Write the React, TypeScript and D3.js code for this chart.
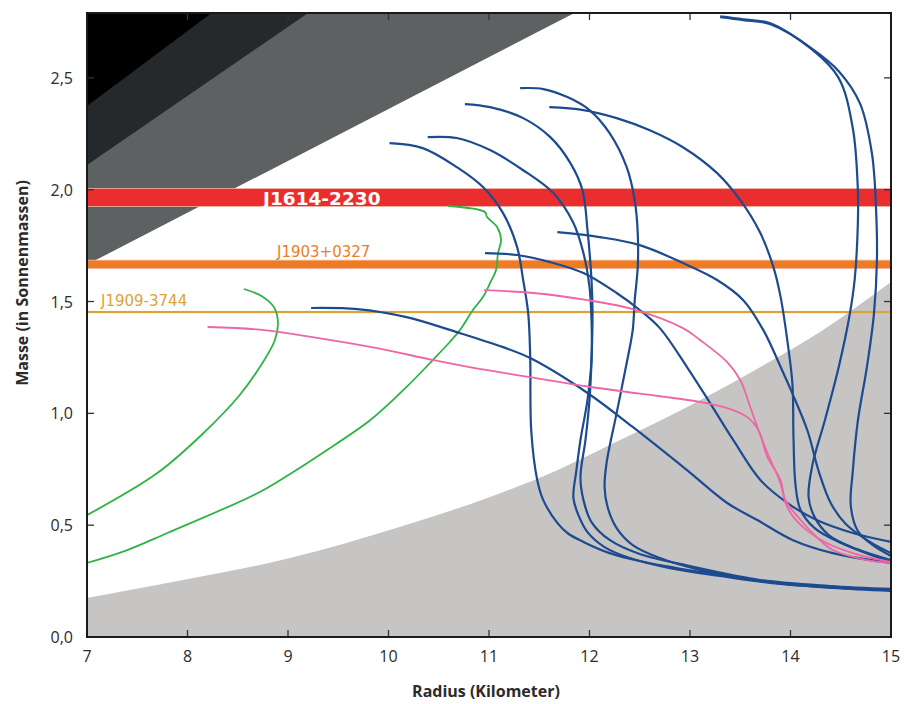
import React from "react";
import * as d3 from "d3";

// axes
const radiusTicks = [7, 8, 9, 10, 11, 12, 13, 14, 15];
const massTicks = [0, 0.5, 1.0, 1.5, 2.0, 2.5];

// excluded regions: [radius, mass] corners of the wedges (left edge, top edge)
const blackEdge = [[7, 2.374], [8.24, 2.79]];
const darkEdge = [[7, 2.11], [9.2, 2.79]];
const greyEdge = [[7, 1.665], [11.85, 2.79]];
// lower light-grey region boundary
const lowerRadius = [7, 7.8, 9.02, 10.11, 11.01, 11.68, 12.2, 13.1, 13.77, 14.32, 15];
const lowerMass = [0.174, 0.241, 0.353, 0.492, 0.626, 0.746, 0.858, 1.059, 1.225, 1.372, 1.587];

// pulsar mass bands [low, high]
const pulsarNames = ["J1614-2230", "J1903+0327", "J1909-3744"];
const pulsarLow = [1.925, 1.647, 1.448];
const pulsarHigh = [2.005, 1.685, 1.458];

// mass-radius curves
const blue1 = [[9.23, 1.471], [9.69, 1.466], [10.18, 1.43], [10.68, 1.363], [11.14, 1.296], [11.41, 1.247], [11.98, 1.091], [12.43, 0.939], [12.97, 0.746], [13.37, 0.599], [13.67, 0.523], [14.02, 0.434], [14.42, 0.375], [15, 0.331]];
const blue2 = [[10.01, 2.208], [10.34, 2.186], [10.68, 2.101], [10.94, 2.012], [11.14, 1.895], [11.28, 1.743], [11.34, 1.596], [11.39, 1.448], [11.41, 1.252], [11.42, 0.925], [11.48, 0.702], [11.54, 0.612], [11.68, 0.51], [11.78, 0.465], [11.94, 0.425], [12.2, 0.375], [12.5, 0.34], [13.1, 0.291], [13.77, 0.246], [14.42, 0.224], [15, 0.21]];
const blue3 = [[10.39, 2.235], [10.68, 2.231], [11.01, 2.177], [11.34, 2.087], [11.64, 1.985], [11.84, 1.851], [11.94, 1.716], [12.0, 1.565], [12.02, 1.417], [12.02, 1.238], [11.98, 1.059], [11.91, 0.881], [11.87, 0.746], [11.84, 0.621], [11.89, 0.545], [11.98, 0.469], [12.15, 0.402], [12.4, 0.353], [12.8, 0.308], [13.3, 0.273], [13.9, 0.237], [14.49, 0.219], [15, 0.21]];
const blue4 = [[10.76, 2.383], [11.01, 2.369], [11.34, 2.32], [11.61, 2.235], [11.81, 2.119], [11.93, 1.998], [11.98, 1.819], [12.02, 1.596], [12.03, 1.448], [12.02, 1.238], [12.0, 1.059], [11.96, 0.881], [11.91, 0.715], [11.94, 0.612], [12.02, 0.514], [12.2, 0.434], [12.5, 0.371], [13.0, 0.317], [13.7, 0.255], [14.39, 0.228], [15, 0.215]];
const blue5 = [[11.31, 2.454], [11.54, 2.45], [11.78, 2.414], [12.0, 2.356], [12.2, 2.253], [12.37, 2.101], [12.45, 1.953], [12.48, 1.806], [12.48, 1.654], [12.45, 1.506], [12.43, 1.372], [12.37, 1.225], [12.27, 1.001], [12.17, 0.778], [12.15, 0.671], [12.18, 0.581], [12.27, 0.487], [12.43, 0.411], [12.7, 0.353], [13.1, 0.3], [13.77, 0.246], [14.42, 0.219], [15, 0.206]];
const blue6 = [[11.6, 2.369], [11.94, 2.356], [12.27, 2.32], [12.6, 2.266], [12.93, 2.19], [13.27, 2.074], [13.5, 1.953], [13.7, 1.806], [13.83, 1.654], [13.9, 1.524], [13.98, 1.287], [14.02, 1.126], [14.03, 0.885], [14.05, 0.679], [14.1, 0.568], [14.24, 0.487], [14.48, 0.425], [15, 0.335]];
const blue7 = [[10.96, 1.716], [11.28, 1.708], [11.61, 1.676], [11.94, 1.627], [12.27, 1.538], [12.5, 1.462], [12.7, 1.381], [12.97, 1.207], [13.2, 1.046], [13.43, 0.881], [13.7, 0.702], [13.97, 0.599], [14.26, 0.523], [14.62, 0.465], [15, 0.425]];
const blue8 = [[11.68, 1.81], [12.1, 1.788], [12.5, 1.752], [12.93, 1.672], [13.27, 1.596], [13.53, 1.506], [13.73, 1.372], [13.92, 1.189], [14.03, 1.077], [14.17, 0.921], [14.28, 0.742], [14.4, 0.599], [14.55, 0.505], [14.79, 0.425], [15, 0.375]];
const blue9 = [[13.3, 2.771], [13.53, 2.758], [13.8, 2.74], [14.21, 2.628], [14.48, 2.499], [14.62, 2.275], [14.67, 2.003], [14.67, 1.846], [14.64, 1.605], [14.59, 1.444], [14.48, 1.207], [14.34, 0.966], [14.22, 0.773], [14.18, 0.626], [14.24, 0.536], [14.38, 0.456], [14.66, 0.393], [15, 0.344]];
const blue10 = [[13.3, 2.775], [13.53, 2.762], [13.8, 2.744], [14.21, 2.632], [14.48, 2.53], [14.69, 2.387], [14.81, 2.163], [14.85, 1.927], [14.86, 1.685], [14.83, 1.444], [14.76, 1.207], [14.67, 0.966], [14.62, 0.742], [14.6, 0.586], [14.67, 0.474], [14.83, 0.407], [15, 0.362]];
const pink1 = [[8.2, 1.386], [8.72, 1.374], [9.32, 1.335], [9.9, 1.29], [10.45, 1.238], [10.95, 1.195], [11.44, 1.16], [11.98, 1.12], [12.5, 1.088], [13.1, 1.051], [13.4, 1.019], [13.57, 0.983], [13.68, 0.925], [13.77, 0.805], [13.9, 0.702], [13.95, 0.612], [14.1, 0.523], [14.26, 0.447], [14.42, 0.389], [14.76, 0.344], [15, 0.331]];
const pink2 = [[10.95, 1.551], [11.44, 1.538], [11.98, 1.506], [12.43, 1.466], [12.93, 1.381], [13.1, 1.328], [13.37, 1.229], [13.5, 1.149], [13.6, 1.028], [13.67, 0.939], [13.77, 0.823], [13.9, 0.688], [13.95, 0.599], [14.03, 0.536], [14.16, 0.478], [14.36, 0.42], [14.62, 0.375], [15, 0.335]];
const green1 = [[8.56, 1.556], [8.74, 1.524], [8.86, 1.475], [8.9, 1.408], [8.87, 1.328], [8.72, 1.207], [8.52, 1.082], [8.16, 0.912], [7.7, 0.733], [7.0, 0.545]];
const green2 = [[10.59, 1.927], [10.96, 1.9], [10.98, 1.878], [11.08, 1.833], [11.12, 1.775], [11.09, 1.717], [11.07, 1.641], [11.01, 1.582], [10.94, 1.52], [10.84, 1.462], [10.71, 1.372], [10.61, 1.319], [10.44, 1.238], [10.18, 1.118], [9.82, 0.97], [9.34, 0.822], [9.02, 0.729], [8.7, 0.644], [7.8, 0.465], [7.38, 0.385], [7.0, 0.331]];

const blueCurves = [blue1, blue2, blue3, blue4, blue5, blue6, blue7, blue8, blue9, blue10];
const pinkCurves = [pink1, pink2];
const greenCurves = [green1, green2];

const W = 912;
const H = 704;
const left = 87;
const right = 891;
const top = 13;
const bottom = 637;

const App = () => {
    const x = d3.scaleLinear().domain([7, 15]).range([left, right]);
    const y = d3.scaleLinear().domain([0, 2.79]).range([bottom, top]);
    const yTop = 2.79;

    const line = d3.line<number[]>()
        .x(d => x(d[0]))
        .y(d => y(d[1]))
        .curve(d3.curveCatmullRom.alpha(0.5));

    const lowerArea = d3.area<number>()
        .x((_, i) => x(lowerRadius[i]))
        .y0(y(0))
        .y1(d => y(d))
        .curve(d3.curveMonotoneX);

    const wedge = (edge: number[][]) =>
        `M${x(7)},${y(yTop)}L${x(edge[1][0])},${y(yTop)}L${x(edge[0][0])},${y(edge[0][1])}Z`;

    const bandColors = ["#ea2e2d", "#ee7d22", "#dca337"];
    const fontTick = "'Open Sans', 'DejaVu Sans', sans-serif";

    return (
        <svg width={W} height={H} viewBox={`0 0 ${W} ${H}`}
            style={{ position: "absolute", left: 0, top: 0, background: "#fff" }}>
            <defs>
                <clipPath id="plot">
                    <rect x={left} y={top} width={right - left} height={bottom - top} />
                </clipPath>
            </defs>
            <g clipPath="url(#plot)">
                <path d={lowerArea(lowerMass) || ""} fill="#c6c5c3" />
                <path d={wedge(greyEdge)} fill="#5d6162" />
                <path d={wedge(darkEdge)} fill="#25292b" />
                <path d={wedge(blackEdge)} fill="#000" />

                {pulsarNames.map((name, i) => (
                    <rect key={name}
                        x={left} width={right - left}
                        y={y(pulsarHigh[i])}
                        height={y(pulsarLow[i]) - y(pulsarHigh[i])}
                        fill={bandColors[i]}
                        stroke={i < 2 ? "#f7b3a8" : "none"}
                        strokeWidth={0.8}
                    />
                ))}

                {greenCurves.map((c, i) => (
                    <path key={"g" + i} d={line(c) || ""} fill="none" stroke="#2fb344" strokeWidth={1.8} />
                ))}
                {blueCurves.map((c, i) => (
                    <path key={"b" + i} d={line(c) || ""} fill="none" stroke="#1d4b90" strokeWidth={2.2} />
                ))}
                {pinkCurves.map((c, i) => (
                    <path key={"p" + i} d={line(c) || ""} fill="none" stroke="#ee66a6" strokeWidth={1.8} />
                ))}
            </g>

            <text x={263} y={y(pulsarLow[0]) - 1.5} fill="#fff" fontFamily="'DejaVu Sans', sans-serif"
                fontWeight="bold" fontSize={18.5}>{pulsarNames[0]}</text>
            <text x={277} y={y(pulsarHigh[1]) - 3} fill="#ee7d22" fontFamily="'DejaVu Sans', sans-serif"
                fontSize={15}>{pulsarNames[1]}</text>
            <text x={101} y={y(pulsarHigh[2]) - 5} fill="#dca337" fontFamily="'DejaVu Sans', sans-serif"
                fontSize={15}>{pulsarNames[2]}</text>

            {/* ticks */}
            {radiusTicks.slice(1, -1).map(t => (
                <g key={"xt" + t} stroke="#333" strokeWidth={1.3}>
                    <line x1={x(t)} x2={x(t)} y1={bottom} y2={bottom - 7} />
                    <line x1={x(t)} x2={x(t)} y1={top} y2={top + 7} />
                </g>
            ))}
            {massTicks.slice(1).map(t => (
                <g key={"yt" + t} stroke="#333" strokeWidth={1.3}>
                    <line x1={left} x2={left + 7} y1={y(t)} y2={y(t)} />
                    <line x1={right} x2={right - 7} y1={y(t)} y2={y(t)} />
                </g>
            ))}
            <rect x={left} y={top} width={right - left} height={bottom - top}
                fill="none" stroke="#1a1a1a" strokeWidth={2} />

            {radiusTicks.map(t => (
                <text key={"xl" + t} x={x(t)} y={662} textAnchor="middle"
                    fontFamily={fontTick} fontSize={16} fill="#2b2b2b">{t}</text>
            ))}
            {massTicks.map(t => (
                <text key={"yl" + t} x={73} y={y(t) + 6} textAnchor="end"
                    fontFamily={fontTick} fontSize={16} fill="#2b2b2b">
                    {d3.format(".1f")(t).replace(".", ",")}
                </text>
            ))}

            <text x={486} y={697} textAnchor="middle" fontFamily={fontTick}
                fontWeight="bold" fontSize={16} fill="#2b2b2b">Radius (Kilometer)</text>
            <text transform="translate(28,283) rotate(-90)" textAnchor="middle" fontFamily={fontTick}
                fontWeight="bold" fontSize={16} fill="#2b2b2b">Masse (in Sonnenmassen)</text>
        </svg>
    );
};

export default App;
